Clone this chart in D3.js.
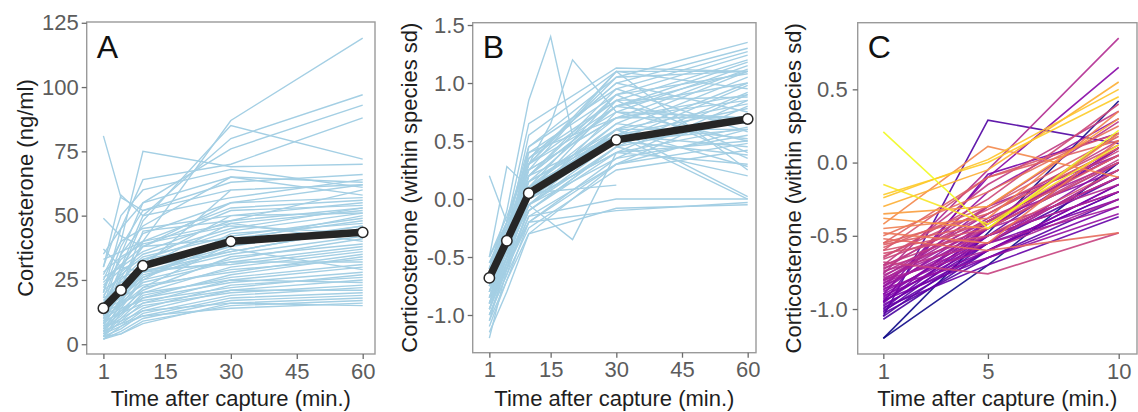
<!DOCTYPE html>
<html>
<head>
<meta charset="utf-8">
<script src="https://cdn.jsdelivr.net/npm/d3@7"></script>
<style>
  body { margin: 0; background: #fff; }
  svg { display: block; font-family: "Liberation Sans", Arial, sans-serif; }
</style>
</head>
<body>
<svg id="chart" width="1138" height="412"></svg>
<script>
// Panel A: raw corticosterone (ng/ml), one line per species
const timesA = [1, 5, 10, 30, 60];
const seriesA = [
  [8, 22, 40, 87, 119],
  [12, 30, 50, 80, 97],
  [15, 35, 55, 76, 93],
  [20, 45, 64, 70, 88],
  [10, 28, 48, 85, 72],
  [25, 40, 75, 69, 70],
  [81, 57, 52, 63, 66],
  [49, 42, 38, 55, 62],
  [37, 30, 36, 48, 60],
  [5, null, 30, 60, null],
  [30, 58, 50, 57, 64],
  [18, 35, 46, 65, 63],
  [14, 30, 43, 55, 57],
  [22, 33, 40, 53, 56],
  [9, 20, 32, 50, 55],
  [11, 26, 38, 52, 54],
  [16, 28, 35, 45, 53],
  [7, 18, 30, 47, 52],
  [13, 25, 33, 44, 51],
  [6, 15, 26, 40, 50],
  [19, 27, 34, 42, 49],
  [24, 31, 38, 41, 48],
  [4, 14, 25, 43, 47],
  [10, 20, 28, 38, 46],
  [17, 24, 30, 36, 45],
  [3, 12, 22, 39, 44],
  [28, 34, 39, 46, 43],
  [8, 17, 27, 35, 42],
  [12, 19, 25, 33, 41],
  [33, 36, 40, 47, 40],
  [5, 13, 21, 34, 39],
  [9, 16, 24, 32, 38],
  [21, 26, 29, 31, 37],
  [6, 11, 20, 30, 36],
  [14, 18, 23, 28, 35],
  [4, 10, 18, 27, 34],
  [11, 15, 22, 29, 33],
  [26, 30, 28, 32, 32],
  [7, 12, 19, 26, 31],
  [3, 9, 16, 25, 30],
  [15, 20, 26, 37, 29],
  [8, 13, 18, 24, 28],
  [10, 14, 17, 22, 27],
  [5, 8, 14, 23, 26],
  [2, 7, 13, 21, 25],
  [12, 16, 20, 25, 24],
  [6, 10, 15, 20, 23],
  [3, 6, 12, 19, 22],
  [9, 12, 16, 21, 21],
  [4, 7, 11, 18, 20],
  [2, 5, 10, 17, 19],
  [7, 9, 13, 16, 18],
  [3, 4, 9, 15, 17],
  [5, 8, 11, 14, 16],
  [2, 4, 8, 16, 15],
  [35, 45, 55, 65, 58],
  [30, 50, 60, 68, 61],
  [20, 38, 52, 60, 62],
  [27, 40, 45, 50, 51],
  [18, 22, 44, 48, 53],
  [13, 17, 28, 36, 45],
  [23, 29, 33, 39, 46]
];
const meanA = [14, 21, 30.5, 40, 43.5];

// Panel B: within-species standardised values
const timesB = [1, 5, 10, 15, 20, 30, 60];
const seriesB = [
  [-0.6, -0.1, 0.85, 1.4, 0.55, 0.8, 1.0],
  [-0.8, -0.3, 0.3, 0.65, 1.2, 0.75, 0.7],
  [-0.9, -0.5, -0.05, -0.2, -0.35, 0.4, 0.5],
  [0.2, -0.2, 0.1, null, null, 0.5, 0.6],
  [-0.5, 0.28, 0.1, null, null, 0.7, 0.9],
  [-0.7, -0.2, 0.65, null, null, 1.13, 1.1],
  [-0.75, -0.3, 0.55, null, null, 1.1, 1.1],
  [-0.85, -0.4, 0.45, null, null, 1.05, 1.35],
  [-0.65, -0.35, 0.35, null, null, 1.0, 1.3],
  [-0.95, -0.5, 0.2, null, null, 0.95, 1.27],
  [-1.2, -0.6, 0.1, null, null, 0.9, 1.24],
  [-0.55, -0.25, 0.3, null, null, 0.85, 1.2],
  [-0.8, -0.45, 0.15, null, null, 0.8, 1.18],
  [-1.05, -0.55, 0.0, null, null, 0.75, 1.15],
  [-0.7, -0.3, 0.25, null, null, 0.7, 1.12],
  [-0.9, -0.4, 0.05, null, null, 0.65, 1.1],
  [-0.6, -0.2, 0.4, null, null, 0.9, 1.08],
  [-1.0, -0.65, -0.05, null, null, 0.6, 1.05],
  [-0.75, -0.35, 0.2, null, null, 0.55, 1.0],
  [-0.85, -0.45, 0.1, null, null, 0.5, 0.98],
  [-0.65, -0.25, 0.3, null, null, 1.1, 0.95],
  [-0.95, -0.55, -0.1, null, null, 0.45, 0.92],
  [-0.7, -0.4, 0.0, null, null, 0.4, 0.9],
  [-0.8, -0.5, 0.05, null, null, 0.85, 0.88],
  [-1.1, -0.7, -0.2, null, null, 0.35, 0.85],
  [-0.6, -0.3, 0.15, null, null, 0.6, 0.82],
  [-0.9, -0.6, -0.15, null, null, 0.3, 0.8],
  [-0.75, -0.45, 0.1, null, null, 0.55, 0.78],
  [-0.5, -0.15, 0.35, null, null, 1.0, 0.75],
  [-0.85, -0.5, -0.05, null, null, 0.5, 0.72],
  [-0.7, -0.35, 0.25, null, null, 0.7, 0.7],
  [-1.0, -0.6, -0.1, null, null, 0.45, 0.68],
  [-0.65, -0.25, 0.2, null, null, 0.8, 0.65],
  [-0.8, -0.4, 0.0, null, null, 0.4, 0.62],
  [-0.95, -0.55, 0.05, null, null, 0.6, 0.6],
  [-0.55, -0.2, 0.45, null, null, 0.95, 0.58],
  [-0.75, -0.45, -0.05, null, null, 0.35, 0.55],
  [-0.9, -0.5, 0.1, null, null, 0.65, 0.52],
  [-0.6, -0.3, 0.3, null, null, 0.75, 0.5],
  [-0.85, -0.6, -0.2, null, null, 0.3, 0.48],
  [-0.7, -0.4, 0.15, null, null, 0.55, 0.45],
  [-1.0, -0.65, -0.25, null, null, 0.25, 0.42],
  [-0.65, -0.35, 0.2, null, null, 0.9, 0.4],
  [-0.8, -0.5, 0.0, null, null, 0.5, 0.38],
  [-0.5, -0.2, 0.35, null, null, 0.85, 0.35],
  [-0.9, -0.55, -0.1, null, null, 0.4, 0.3],
  [-0.75, -0.45, 0.05, null, null, 0.6, 0.28],
  [-0.6, -0.25, 0.25, null, null, 1.1, 0.25],
  [-0.85, -0.5, -0.05, null, null, 0.45, 0.2],
  [-0.7, -0.4, 0.1, null, null, 0.55, 0.0],
  [-0.8, -0.45, 0.0, null, null, 0.6, 0.02],
  [-0.95, -0.6, -0.15, null, null, 0.0, 0.0],
  [-1.05, -0.7, -0.3, null, null, -0.08, -0.05],
  [-0.9, -0.55, -0.2, null, null, -0.1, -0.03],
  [-0.6, -0.3, 0.05, null, null, 0.12, null],
  [-0.75, -0.4, 0.2, null, null, 0.8, 1.1],
  [-0.65, -0.3, 0.3, null, null, 1.05, 1.1],
  [-0.55, -0.35, 0.4, null, null, 0.7, 0.85],
  [-1.15, -0.8, -0.3, null, null, 0.3, 0.6]
];
const meanB = [-0.68, -0.36, 0.05, null, null, 0.51, 0.69];

// Panel C: first 10 minutes only, coloured by starting level
const timesC = [1, 5, 10];
const seriesC = [
  [0.21, -0.45, 0.22],
  [-0.15, -0.42, 0.12],
  [-0.22, 0.0, 0.45],
  [-0.24, 0.02, 0.5],
  [-0.3, -0.05, 0.55],
  [-0.35, -0.3, 0.3],
  [-0.38, -0.45, 0.2],
  [-0.42, 0.11, -0.1],
  [-0.45, -0.38, 0.35],
  [-0.48, -0.55, 0.15],
  [-0.5, -0.2, 0.25],
  [-0.52, -0.6, -0.48],
  [-0.55, -0.35, 0.1],
  [-0.56, -0.42, 0.05],
  [-0.58, -0.3, 0.18],
  [-0.6, -0.45, 0.0],
  [-0.62, -0.5, -0.05],
  [-0.64, -0.32, 0.12],
  [-0.66, -0.4, 0.08],
  [-0.68, -0.76, -0.48],
  [-0.7, -0.45, 0.02],
  [-0.71, -0.35, 0.15],
  [-0.72, -0.5, -0.1],
  [-0.73, -0.3, 0.28],
  [-0.74, -0.55, -0.05],
  [-0.75, -0.4, 0.05],
  [-0.76, -0.05, 0.85],
  [-0.77, -0.45, -0.15],
  [-0.78, -0.35, 0.1],
  [-0.79, -0.5, -0.2],
  [-0.8, -0.6, -0.25],
  [-0.8, -0.38, 0.0],
  [-0.81, -0.42, 0.2],
  [-0.82, -0.55, -0.3],
  [-0.83, -0.3, 0.05],
  [-0.84, -0.5, -0.1],
  [-0.85, -0.45, 0.1],
  [-0.86, -0.65, -0.35],
  [-0.87, -0.4, -0.05],
  [-0.88, -0.55, 0.0],
  [-0.9, -0.1, 0.65],
  [-0.9, -0.5, -0.2],
  [-0.91, -0.6, -0.15],
  [-0.92, -0.45, 0.1],
  [-0.93, -0.55, -0.25],
  [-0.94, -0.65, -0.3],
  [-0.95, -0.5, -0.1],
  [-0.96, -0.4, 0.05],
  [-0.97, -0.6, -0.2],
  [-0.98, -0.55, -0.05],
  [-0.99, -0.7, -0.37],
  [-1.0, -0.45, 0.0],
  [-1.01, -0.6, -0.15],
  [-1.02, -0.5, 0.1],
  [-1.03, -0.65, -0.25],
  [-1.05, 0.29, 0.13],
  [-1.05, -0.55, -0.1],
  [-1.07, -0.6, -0.2],
  [-1.2, null, 0.42],
  [-1.2, -0.7, 0.0],
  [-0.6, -0.1, 0.2],
  [-0.7, -0.15, 0.35],
  [-0.85, -0.2, 0.3],
  [-0.65, -0.25, 0.4],
  [-0.55, -0.1, 0.15],
  [-0.95, -0.08, 0.2]
];

const ticksAB = [1, 15, 30, 45, 60];
const ticksC = [1, 5, 10];
const yTicksA = [0, 25, 50, 75, 100, 125];
const yTicksB = [-1.0, -0.5, 0.0, 0.5, 1.0, 1.5];
const yTicksC = [-1.0, -0.5, 0.0, 0.5];

const svg = d3.select('#chart');
const lineBlue = '#a4cfe4';

function toPoints(times, values) {
  return times
    .map((t, i) => ({ t, v: values[i] }))
    .filter((d) => d.v !== null);
}

function drawPanel(cfg) {
  const x = d3.scaleLinear(cfg.xDomain, [cfg.left, cfg.right]);
  const y = d3.scaleLinear(cfg.yDomain, [cfg.bottom, cfg.top]);
  const g = svg.append('g');

  const line = d3
    .line()
    .x((d) => x(d.t))
    .y((d) => y(d.v));

  // species lines
  g.append('g')
    .selectAll('path')
    .data(cfg.series)
    .join('path')
    .attr('d', (s) => line(toPoints(cfg.times, s)))
    .attr('fill', 'none')
    .attr('stroke', (s) => (cfg.color ? cfg.color(s[0]) : lineBlue))
    .attr('stroke-width', cfg.color ? 1.6 : 1.4)
    .attr('stroke-opacity', cfg.color ? 0.9 : 1);

  // mean line with open points
  if (cfg.mean) {
    const pts = toPoints(cfg.times, cfg.mean);
    g.append('path')
      .attr('d', line(pts))
      .attr('fill', 'none')
      .attr('stroke', '#262626')
      .attr('stroke-width', 7.5)
      .attr('stroke-linejoin', 'round');
    g.append('g')
      .selectAll('circle')
      .data(pts)
      .join('circle')
      .attr('cx', (d) => x(d.t))
      .attr('cy', (d) => y(d.v))
      .attr('r', 5.2)
      .attr('fill', '#fff')
      .attr('stroke', '#262626')
      .attr('stroke-width', 1.5);
  }

  // panel border
  g.append('rect')
    .attr('x', cfg.left)
    .attr('y', cfg.top)
    .attr('width', cfg.right - cfg.left)
    .attr('height', cfg.bottom - cfg.top)
    .attr('fill', 'none')
    .attr('stroke', '#9a9a9a')
    .attr('stroke-width', 1.4);

  // axes
  const xAxis = g
    .append('g')
    .attr('transform', `translate(0,${cfg.bottom})`)
    .call(d3.axisBottom(x).tickValues(cfg.xTicks).tickSize(5).tickPadding(4));
  const yAxis = g
    .append('g')
    .attr('transform', `translate(${cfg.left},0)`)
    .call(
      d3
        .axisLeft(y)
        .tickValues(cfg.yTicks)
        .tickFormat(cfg.yFormat)
        .tickSize(5)
        .tickPadding(cfg.yPad)
    );
  [xAxis, yAxis].forEach((a) => {
    a.select('.domain').remove();
    a.selectAll('.tick line').attr('stroke', '#6b6b6b').attr('stroke-width', 1.3);
    a.selectAll('.tick text')
      .attr('fill', '#5c5c5c')
      .style('font-size', '22px')
      .style('font-family', '"Liberation Sans", Arial, sans-serif');
  });

  // titles
  g.append('text')
    .attr('x', (cfg.left + cfg.right) / 2)
    .attr('y', 406)
    .attr('text-anchor', 'middle')
    .attr('fill', '#1e1e1e')
    .style('font-size', '22px')
    .text('Time after capture (min.)');
  g.append('text')
    .attr(
      'transform',
      `translate(${cfg.titleX},${(cfg.top + cfg.bottom) / 2}) rotate(-90)`
    )
    .attr('text-anchor', 'middle')
    .attr('fill', '#1e1e1e')
    .style('font-size', '22px')
    .text(cfg.yTitle);
  g.append('text')
    .attr('x', cfg.left + 10)
    .attr('y', 58)
    .attr('fill', '#111')
    .style('font-size', '32px')
    .text(cfg.label);
}

const fmt1 = (d) => d.toFixed(1);

drawPanel({
  left: 86.7, right: 375, top: 22, bottom: 354,
  xDomain: [-2.8, 62.8], yDomain: [-3.8, 125.3],
  xTicks: ticksAB, yTicks: yTicksA, yFormat: d3.format('d'), yPad: 3,
  times: timesA, series: seriesA, mean: meanA,
  label: 'A', yTitle: 'Corticosterone (ng/ml)', titleX: 33
});

drawPanel({
  left: 472.7, right: 756, top: 22.7, bottom: 352.7,
  xDomain: [-2.8, 61.9], yDomain: [-1.325, 1.52],
  xTicks: ticksAB, yTicks: yTicksB, yFormat: fmt1, yPad: 3,
  times: timesB, series: seriesB, mean: meanB,
  label: 'B', yTitle: 'Corticosterone (within species sd)', titleX: 417
});

// plasma colour by starting level, saturating at the top
const colorC = d3
  .scaleSequential(d3.interpolatePlasma)
  .domain([-1.2, -0.1])
  .clamp(true);

drawPanel({
  left: 857.7, right: 1137, top: 22.7, bottom: 354,
  xDomain: [0.02, 10.7], yDomain: [-1.307, 0.955],
  xTicks: ticksC, yTicks: yTicksC, yFormat: fmt1, yPad: 5,
  times: timesC, series: seriesC.slice().sort((a, b) => a[0] - b[0]),
  color: colorC,
  label: 'C', yTitle: 'Corticosterone (within species sd)', titleX: 801
});
</script>
</body>
</html>
